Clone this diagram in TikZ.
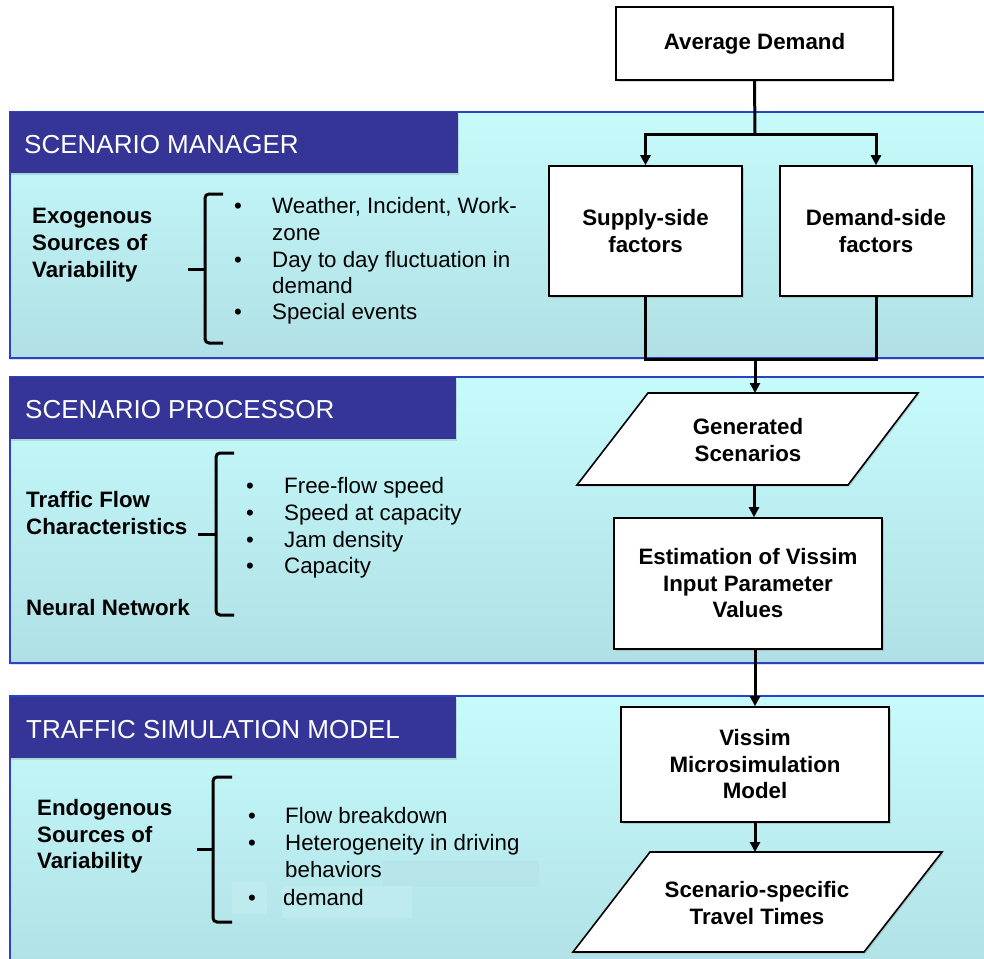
\documentclass[tikz,border=0pt]{standalone}
\usepackage{fontspec}
\setmainfont{Liberation Sans}
\usetikzlibrary{arrows.meta,shadows}

\definecolor{hdrblue}{RGB}{53,53,152}
\definecolor{paneltop}{RGB}{198,251,251}
\definecolor{panelbot}{RGB}{176,224,229}
\definecolor{edgeblue}{RGB}{45,65,200}
\definecolor{patchlight}{RGB}{190,236,238}
\definecolor{patchdark}{RGB}{181,229,232}

\newcommand{\bodyfont}{\fontsize{22.3}{26.5}\selectfont}
\newcommand{\hdrfont}{\fontsize{26}{30}\selectfont}

\begin{document}
\begin{tikzpicture}[x=1pt, y=-1pt,
    panel/.style={draw=edgeblue, line width=1.2pt, top color=paneltop, bottom color=panelbot,
      drop shadow={shadow xshift=0pt, shadow yshift=-2pt, opacity=0.25}},
    header/.style={fill=hdrblue, drop shadow={shadow xshift=1pt, shadow yshift=-1.5pt, opacity=0.25}},
    hdrtext/.style={anchor=base west, inner sep=0pt, text=white, font=\hdrfont},
    box/.style={draw, line width=1.6pt, fill=white, align=center, inner sep=0pt,
      font=\bodyfont\bfseries, drop shadow={shadow xshift=1.5pt, shadow yshift=-1.5pt, opacity=0.3}},
    slanted/.style={draw, line width=1.6pt, fill=white,
      drop shadow={shadow xshift=1.5pt, shadow yshift=-1.5pt, opacity=0.3}},
    boxtext/.style={align=center, inner sep=0pt, font=\bodyfont\bfseries},
    item/.style={anchor=base west, inner sep=0pt, font=\bodyfont},
    dot/.style={anchor=base, inner sep=0pt, font=\bodyfont},
    heading/.style={anchor=base west, inner sep=0pt, font=\bodyfont\bfseries},
    brace/.style={line width=3pt, rounded corners=4pt},
    conn/.style={line width=3pt},
    arr/.style={line width=3pt, -{Triangle[length=10pt,width=10pt]}}]

    \useasboundingbox (0,0) rectangle (984,958);
    \clip (0,0) rectangle (984,958);

    % Panels
    \draw[panel] (10,112) rectangle (1000,358);
    \draw[panel] (10,377) rectangle (1000,663);
    \draw[panel] (10,696) rectangle (1000,980);

    % Panel headers
    \fill[header] (10,112) rectangle (458,173);
    \fill[header] (10,377) rectangle (456,439);
    \fill[header] (10,697) rectangle (456,758);
    \node[hdrtext] (mgr) at (24,153) {SCENARIO MANAGER};
    \node[hdrtext] (proc) at (25,418) {SCENARIO PROCESSOR};
    \node[hdrtext] (sim) at (26,738) {TRAFFIC SIMULATION MODEL};

    % Patches behind the last items
    \fill[patchdark] (383,861) rectangle (539,887);
    \fill[patchlight] (232,882) rectangle (267,914);
    \fill[patchlight] (282,886) rectangle (412,918);

    % Scenario manager, left side
    \node[heading] (exo1) at (32,223) {Exogenous};
    \node[heading] (exo2) at (32,250) {Sources of};
    \node[heading] (exo3) at (32,277) {Variability};
    \draw[brace] (223,194) -- (205,194) -- (205,343) -- (223,343);
    \draw[brace] (205,269) -- (188,269);
    \node[dot] (b11) at (238,213) {•};
    \node[dot] (b12) at (238,267) {•};
    \node[dot] (b13) at (238,319) {•};
    \node[item] (w1) at (272,213) {Weather, Incident, Work-};
    \node[item] (w2) at (272,240) {zone};
    \node[item] (w3) at (272,267) {Day to day fluctuation in};
    \node[item] (w4) at (272,293) {demand};
    \node[item] (w5) at (272,319) {Special events};

    % Scenario processor, left side
    \node[heading] (tf1) at (26,507) {Traffic Flow};
    \node[heading] (tf2) at (26,534) {Characteristics};
    \node[heading] (nn) at (26,615) {Neural Network};
    \draw[brace] (234,453) -- (216,453) -- (216,615) -- (234,615);
    \draw[brace] (216,534) -- (198,534);
    \node[dot] (b21) at (250,493) {•};
    \node[dot] (b22) at (250,520) {•};
    \node[dot] (b23) at (250,547) {•};
    \node[dot] (b24) at (250,573) {•};
    \node[item] (p1) at (284,493) {Free-flow speed};
    \node[item] (p2) at (284,520) {Speed at capacity};
    \node[item] (p3) at (284,547) {Jam density};
    \node[item] (p4) at (284,573) {Capacity};

    % Traffic simulation model, left side
    \node[heading] (endo1) at (37,815) {Endogenous};
    \node[heading] (endo2) at (37,842) {Sources of};
    \node[heading] (endo3) at (37,868) {Variability};
    \draw[brace] (232,777) -- (213,777) -- (213,922) -- (232,922);
    \draw[brace] (213,849) -- (197,849);
    \node[dot] (b31) at (252,823) {•};
    \node[dot] (b32) at (252,850) {•};
    \node[dot] (b33) at (252,905) {•};
    \node[item] (s1) at (285,823) {Flow breakdown};
    \node[item] (s2) at (285,850) {Heterogeneity in driving};
    \node[item] (s3) at (285,877) {behaviors};
    \node[item] (s4) at (283,905) {demand};

    % Flow chart boxes
    \node[box, minimum width=277pt, minimum height=73pt] (avg) at (754.5,43.5) {Average Demand};
    \node[box, minimum width=193pt, minimum height=130pt] (supply) at (645.5,231) {Supply-side\\factors};
    \node[box, minimum width=192pt, minimum height=130pt] (demand) at (876,231) {Demand-side\\factors};
    \node[box, minimum width=268pt, minimum height=131pt] (est) at (748,583.5) {Estimation of Vissim\\Input Parameter\\Values};
    \node[box, minimum width=268pt, minimum height=115pt] (vis) at (755,764.5) {Vissim\\Microsimulation\\Model};

    % Slanted boxes
    \draw[slanted] (648,393) -- (918,393) -- (848,485) -- (577,485) -- cycle;
    \node[boxtext] (gen) at (748,440) {Generated\\Scenarios};
    \draw[slanted] (650,852) -- (942,852) -- (864,952) -- (573,952) -- cycle;
    \node[boxtext] (tt) at (757,903) {Scenario-specific\\Travel Times};

    % Connectors
    \coordinate (split) at (755,134);
    \coordinate (join) at (755,359);
    \coordinate (gentop) at (755,393);
    \coordinate (genbot) at (754,485);
    \coordinate (tttop) at (757,852);
    \draw[conn] (avg.south) -- (split);
    \draw[arr] (split) -| (supply.north);
    \draw[arr] (split) -| (demand.north);
    \draw[conn] (supply.south) |- (join);
    \draw[conn] (demand.south) |- (join);
    \draw[arr] (join) -- (gentop);
    \draw[arr] (genbot) -- (genbot |- est.north);
    \draw[arr] (vis.north |- est.south) -- (vis.north);
    \draw[arr] (vis.south) -- (vis.south |- tttop);

\end{tikzpicture}
\end{document}
